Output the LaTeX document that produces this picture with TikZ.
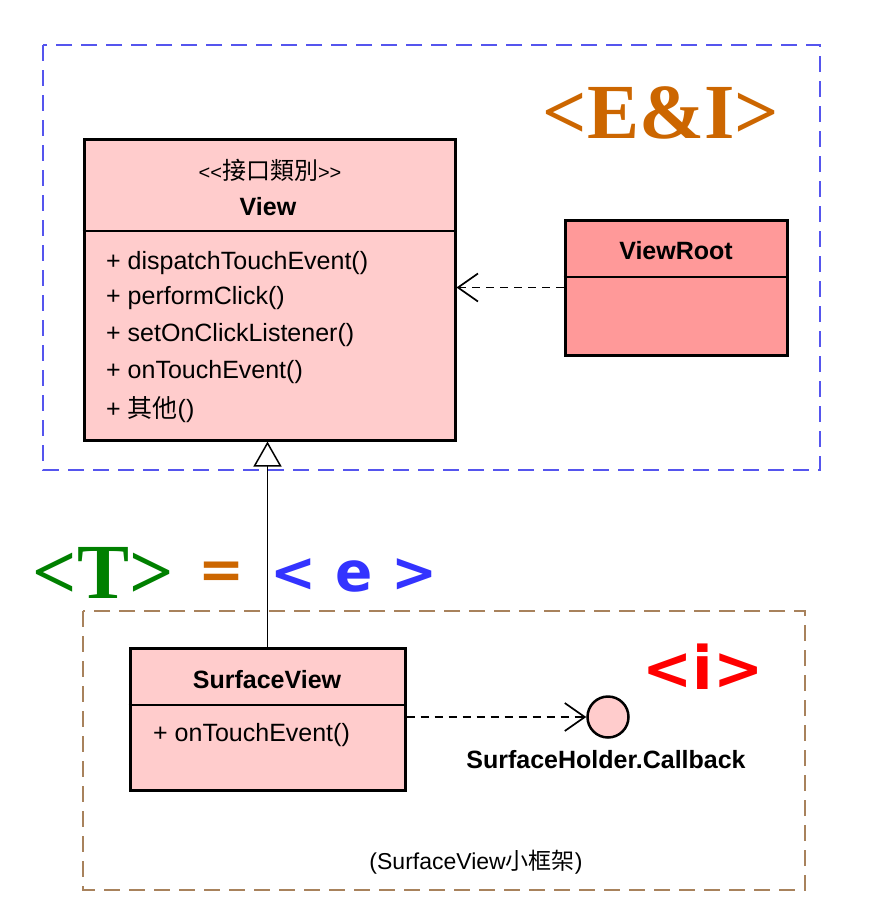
\documentclass[tikz,border=0pt]{standalone}
\usepackage{fontspec}
\setmainfont{Liberation Sans}
\newfontfamily\cjk{Noto Sans CJK TC}
\newfontfamily\stencil{Liberation Serif}
\newfontfamily\heavy{DejaVu Sans}
\usetikzlibrary{arrows.meta}
\definecolor{classpink}{HTML}{FFCCCC}
\definecolor{rootpink}{HTML}{FF9999}
\definecolor{frameblue}{HTML}{5555EE}
\definecolor{framebrown}{HTML}{A8825C}
\definecolor{tagorange}{HTML}{CC6600}
\definecolor{taggreen}{HTML}{008000}
\definecolor{tagblue}{HTML}{3333FF}
\definecolor{tagred}{HTML}{FF0000}
\tikzset{
every picture/.style={x=1pt,y=-1pt}
}
\tikzset{
  classbox/.style={draw, line width=3pt, fill=classpink, inner sep=0pt},
  rootbox/.style={classbox, fill=rootpink},
  divider/.style={line width=1.3pt},
  umltext/.style={inner sep=0pt, font=\fontsize{25}{30}\selectfont},
  umlbold/.style={umltext, font=\fontsize{25}{30}\selectfont\bfseries},
  frame/.style={line width=1.6pt, dash pattern=on 16pt off 9pt},
  depend/.style={line width=1.7pt, dash pattern=on 8pt off 6pt,
    -{Straight Barb[length=20pt, width=28pt]}},
  inherit/.style={line width=1.5pt,
    -{Triangle[open, fill=white, length=25pt, width=28pt]}},
  serifword/.style={inner sep=0pt, font=\stencil\bfseries\fontsize{78}{80}\selectfont},
  sansword/.style={inner sep=0pt, font=\heavy\bfseries\fontsize{55}{60}\selectfont}
}

\begin{document}
\begin{tikzpicture}
  \useasboundingbox (0,0) rectangle (872,922);
  \draw[frame, frameblue] (43,45) rectangle (820,470);
  \draw[frame, framebrown] (83,611) rectangle (805,890);

  \node[classbox, minimum width=371pt, minimum height=301pt] (view) at (269.5,289.5) {};
  \draw[divider] (view.west |- 0,231) -- (view.east |- 0,231);
  \node[umltext] (viewstereo) at (270,170) {{\fontsize{20}{24}\selectfont<{}<}{\cjk\fontsize{24}{28}\selectfont 接口類別}{\fontsize{20}{24}\selectfont>{}>}};
  \node[umlbold] (viewname) at (268,207) {View};
  \node[umltext, anchor=west] (viewdispatch) at (106,263) {+ dispatchTouchEvent()};
  \node[umltext, anchor=west] (viewclick) at (106,298) {+ performClick()};
  \node[umltext, anchor=west] (viewlistener) at (106,335) {+ setOnClickListener()};
  \node[umltext, anchor=west] (viewtouch) at (106,372) {+ onTouchEvent()};
  \node[umltext, anchor=west] (viewother) at (106,410) {+ {\cjk 其他}()};

  \node[rootbox, minimum width=222pt, minimum height=135pt] (viewroot) at (676,287.5) {};
  \draw[divider] (viewroot.west |- 0,277) -- (viewroot.east |- 0,277);
  \node[umlbold] (viewrootname) at (676,251) {ViewRoot};

  \node[classbox, minimum width=275pt, minimum height=142pt] (surface) at (267.5,719) {};
  \draw[divider] (surface.west |- 0,705) -- (surface.east |- 0,705);
  \node[umlbold] (surfacename) at (267,680) {SurfaceView};
  \node[umltext, anchor=west] (surfacetouch) at (153,735) {+ onTouchEvent()};

  \node[circle, draw, line width=2.5pt, fill=classpink, minimum size=41pt, inner sep=0pt] (callback) at (608,717) {};
  \node[umlbold] (callbackname) at (606,760) {SurfaceHolder.Callback};
  \node[umltext, font=\fontsize{23}{28}\selectfont] (framenote) at (476,862) {(SurfaceView{\cjk 小框架})};

  \draw[depend] (viewroot.west) -- (viewroot.west -| view.east);
  \draw[depend] (surface.east |- callback.west) -- (callback.west);
  \draw[inherit] (surface.north) -- (surface.north |- view.south);

  \node[serifword, text=tagorange] (tagei) at (661,113) {<E\&I>};
  \node[serifword, text=taggreen] (tagt) at (103,573) {<T>};
  \node[sansword, text=tagorange] (tageq) at (222,575) {=};
  \node[sansword, text=tagblue] (tage) at (354,575) {< e >};
  \node[sansword, text=tagred, font=\heavy\bfseries\fontsize{60}{64}\selectfont] (tagi) at (703,667) {<i>};
\end{tikzpicture}
\end{document}
